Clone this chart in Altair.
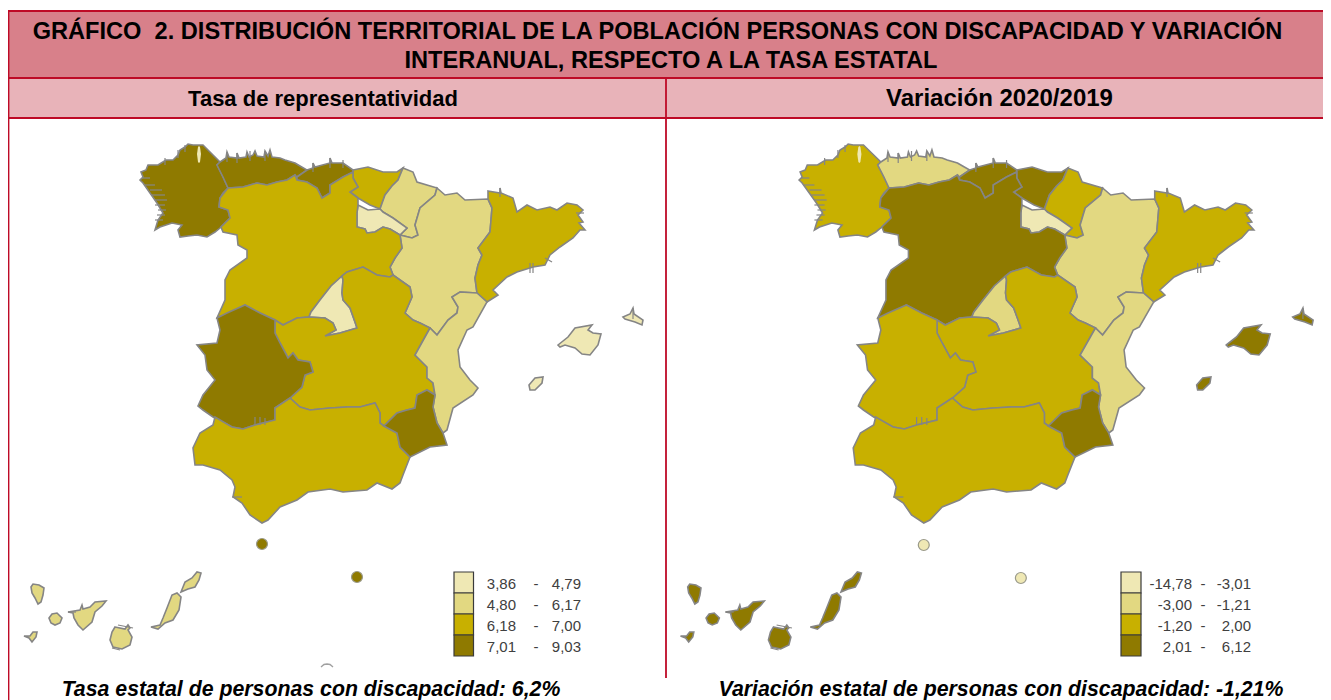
import altair as alt
import pandas as pd

# Class colours, lightest to darkest
CLASS_COLORS = ["#EFE8B4", "#E2D881", "#C8B000", "#8F7A00"]
BORDER = "#BE0A26"

galicia = [(140,180),(143,177),(141,172),(146,170),(148,165),(158,165),(166,160),(173,160),(178,155),(180,150),(185,147),(188,144),(193,145),(198,145),(203,145),(208,150),(213,155),(220,162),(217,165),(223,177),(228,188),(223,193),(220,198),(219,207),(228,210),(230,218),(220,228),(215,232),(207,237),(197,235),(188,236),(180,237),(178,230),(182,225),(172,223),(160,227),(155,230),(158,220),(163,213),(157,203),(150,193),(143,183)]
asturias = [(220,162),(226,158),(227,152),(229,157),(237,158),(237,153),(239,158),(246,157),(247,152),(249,157),(253,155),(255,151),(257,156),(264,157),(265,151),(268,156),(270,150),(272,157),(280,158),(285,160),(295,163),(300,166),(307,170),(297,177),(295,175),(287,180),(277,182),(267,185),(257,183),(243,187),(228,188),(223,177),(217,165)]
cantabria = [(307,170),(313,168),(313,163),(315,167),(330,163),(330,158),(332,163),(343,163),(353,170),(353,172),(343,177),(330,185),(330,193),(322,198),(317,188),(307,182),(297,180),(297,177)]
pais_vasco = [(353,170),(368,167),(383,172),(397,172),(403,168),(398,180),(392,186),(385,195),(380,209),(370,205),(358,198),(350,192),(358,187),(353,178)]
navarra = [(403,168),(413,172),(417,182),(437,188),(435,195),(420,208),(415,225),(418,235),(412,238),(400,235),(407,228),(393,218),(383,212),(380,209),(385,195),(392,186),(398,180)]
rioja = [(358,205),(368,210),(380,209),(383,212),(393,218),(407,228),(400,235),(390,229),(383,227),(375,232),(367,233),(365,229),(357,227),(357,213)]
aragon = [(437,188),(445,195),(457,193),(465,200),(488,199),(492,208),(490,232),(478,248),(482,255),(478,265),(475,278),(477,293),(460,292),(452,297),(458,307),(457,313),(448,320),(437,335),(430,328),(420,323),(413,320),(405,313),(412,297),(410,287),(393,275),(390,267),(395,258),(402,248),(400,235),(412,238),(418,235),(415,225),(420,208),(435,195)]
cataluna = [(488,191),(500,193),(500,188),(501,193),(513,198),(517,212),(527,205),(537,210),(550,207),(557,210),(567,203),(577,205),(583,210),(578,215),(583,222),(579,223),(585,230),(580,230),(573,238),(560,247),(550,255),(545,265),(533,267),(517,272),(507,277),(493,290),(498,295),(487,302),(477,293),(475,278),(478,265),(482,255),(478,248),(490,232),(492,208),(488,199)]
castilla_leon = [(228,188),(243,187),(257,183),(267,185),(277,182),(287,180),(295,175),(297,180),(307,182),(317,188),(322,198),(330,193),(330,185),(343,177),(353,172),(353,178),(358,187),(350,192),(358,198),(358,205),(357,213),(357,227),(365,229),(367,233),(375,232),(383,227),(390,229),(400,235),(402,248),(395,258),(390,267),(393,275),(390,277),(377,275),(363,267),(347,272),(342,276),(331,286),(320,300),(311,312),(309,317),(297,318),(283,325),(275,320),(260,313),(245,305),(233,313),(217,318),(225,300),(225,280),(230,270),(247,258),(247,250),(238,245),(237,235),(223,232),(221,227),(230,218),(228,210),(219,207),(220,198)]
madrid = [(342,276),(331,286),(320,300),(311,312),(309,317),(325,318),(333,323),(336,330),(325,336),(340,333),(357,328),(355,322),(350,308),(343,300),(342,293),(343,280)]
castilla_mancha = [(275,320),(283,325),(297,318),(309,317),(325,318),(333,323),(336,330),(325,336),(340,333),(357,328),(355,322),(350,308),(343,300),(342,293),(343,280),(342,276),(347,272),(363,267),(377,275),(390,277),(393,275),(410,287),(412,297),(405,313),(413,320),(420,323),(430,328),(425,337),(415,355),(427,367),(427,378),(433,383),(435,395),(427,390),(417,395),(415,408),(407,410),(397,413),(384,426),(380,423),(380,413),(375,403),(360,407),(347,407),(330,408),(310,410),(300,407),(290,398),(302,387),(305,375),(313,372),(310,362),(298,360),(293,353),(288,358),(280,343),(275,333)]
valencia = [(460,292),(477,293),(487,302),(473,327),(467,330),(458,350),(460,367),(470,380),(478,388),(473,395),(453,408),(447,430),(443,433),(437,423),(433,407),(435,395),(433,383),(427,378),(427,367),(415,355),(425,337),(430,328),(437,335),(448,320),(457,313),(458,307),(452,297)]
extremadura = [(245,305),(260,313),(275,320),(275,333),(280,343),(288,358),(293,353),(298,360),(310,362),(313,372),(305,375),(302,387),(290,398),(275,408),(275,420),(255,425),(243,429),(232,427),(213,417),(203,410),(198,406),(203,395),(215,380),(207,370),(205,355),(197,345),(217,343),(220,330),(217,318),(227,313)]
andalucia = [(290,398),(300,407),(310,410),(330,408),(347,407),(360,407),(375,403),(380,413),(380,423),(384,426),(397,433),(400,447),(410,457),(403,475),(400,483),(392,489),(377,483),(367,490),(343,492),(330,489),(308,492),(297,500),(280,507),(268,520),(262,523),(250,515),(242,503),(233,497),(235,487),(232,480),(220,470),(203,465),(195,465),(193,448),(200,433),(213,425),(215,417),(232,427),(243,429),(255,425),(275,420),(275,408)]
murcia = [(384,426),(397,413),(407,410),(415,408),(417,395),(427,390),(435,395),(433,407),(437,423),(443,433),(447,445),(430,447),(410,457),(400,447),(397,433)]
mallorca = [(558,345),(568,337),(575,328),(592,325),(588,330),(593,333),(601,334),(598,345),(590,355),(582,354),(575,348),(565,345),(560,347)]
menorca = [(623,317),(630,314),(633,308),(634,314),(643,320),(642,325),(635,322),(625,319)]
ibiza = [(529,385),(535,378),(543,377),(542,383),(535,390),(530,390)]
la_palma = [(31,587),(33,584),(39,585),(44,588),(43,595),(41,602),(38,604),(35,598),(32,593)]
la_gomera = [(49,618),(52,614),(57,613),(62,618),(60,623),(55,625),(51,623)]
el_hierro = [(24,636),(30,636),(33,632),(37,632),(36,637),(32,642),(29,638)]
tenerife = [(68,612),(80,610),(82,605),(83,609),(90,607),(95,602),(106,601),(102,606),(95,612),(92,622),(83,630),(78,625),(74,618),(73,613)]
gran_canaria = [(115,627),(125,629),(128,625),(130,628),(128,630),(132,637),(130,645),(122,649),(113,647),(110,640),(112,632)]
fuerteventura = [(151,627),(160,625),(163,618),(167,608),(172,595),(177,593),(181,597),(179,610),(173,620),(165,623),(158,629)]
lanzarote = [(181,592),(185,582),(192,578),(197,572),(201,573),(199,580),(195,587),(188,589)]

REGIONS = [galicia, asturias, cantabria, pais_vasco, navarra, rioja, aragon, cataluna,
           castilla_leon, madrid, castilla_mancha, valencia, extremadura, andalucia, murcia,
           mallorca, menorca, ibiza, la_palma, la_gomera, el_hierro, tenerife, gran_canaria,
           fuerteventura, lanzarote]
LEFT_CLASS =  [4,4,4,3,2,1,2,3,3,1,3,2,4,3,4,1,1,1,2,2,2,2,2,2,2]
RIGHT_CLASS = [3,2,4,4,3,1,2,3,4,2,3,2,3,3,4,4,4,4,4,4,4,4,4,4,4]

# Small grey coastline spurs visible on the outlines
coast_spurs = [
    [(150,190),(162,190)],[(152,195),(165,195)],[(155,200),(167,200)],[(155,205),(165,205)],
    [(158,210),(166,210)],[(157,215),(165,215)],[(155,220),(163,220)],[(145,185),(155,185)],
    [(142,178),(150,178)],[(185,145),(185,152)],[(178,150),(178,158)],[(165,158),(165,165)],
    [(227,152),(227,162)],[(237,153),(237,163)],[(250,151),(250,161)],[(265,151),(265,161)],
    [(313,163),(313,172)],[(330,158),(330,168)],[(343,160),(343,168)],
    [(500,188),(500,197)],[(530,263),(530,273)],[(533,263),(533,273)],[(545,258),(552,262)],
    [(576,213),(584,213)],[(633,308),(633,319)],[(68,612),(76,612)],[(112,648),(120,650)],
    [(232,497),(242,497)],[(255,417),(255,425)],[(260,417),(260,425)],[(265,418),(265,425)],
    [(118,625),(133,628)],
]

lake = [(197,154),(198,147),(199,146),(200,147),(201,154),(200,162),(199,163),(198,162)]
arc_left = [(321,667),(324,664.5),(327,664),(330,664.5),(333,667)]

city_xy = [(262,544),(357,577)]
city_left = [4,4]
city_right = [1,1]

LEG_TOPS = [572,593,614,635,656]
LEG_CLASS = [1,2,3,4]
LEG_LEFT_A = ["3,86","4,80","6,18","7,01"]
LEG_LEFT_B = ["4,79","6,17","7,00","9,03"]
LEG_RIGHT_A = ["-14,78","-3,00","-1,20","2,01"]
LEG_RIGHT_B = ["-3,01","-1,21","2,00","6,12"]
LEG_ROWS = [584,605,626,647]

FRAME_L, FRAME_R, MID = 8.5, 1345, 666
T0, T1, T2 = 11, 78, 118


def rx(x):
    return 656 + 1.022 * x


def poly(ring, cls=0):
    pts = [[float(x), float(y)] for x, y in ring]
    pts.append(pts[0])
    return {"type": "Feature", "properties": {"cls": cls},
            "geometry": {"type": "Polygon", "coordinates": [pts]}}


def line(pts):
    return {"type": "Feature", "properties": {},
            "geometry": {"type": "LineString", "coordinates": [[float(x), float(y)] for x, y in pts]}}


def box(x0, y0, x1, y1, cls=0):
    return poly([(x0, y0), (x1, y0), (x1, y1), (x0, y1)], cls)


def feats(values):
    return alt.Data(values=values)


color = alt.Color("properties.cls:O", scale=alt.Scale(domain=[1, 2, 3, 4], range=CLASS_COLORS), legend=None)
pcolor = alt.Color("cls:O", scale=alt.Scale(domain=[1, 2, 3, 4], range=CLASS_COLORS), legend=None)

head1 = alt.Chart(feats([box(FRAME_L, T0, FRAME_R, T1)])).mark_geoshape(fill="#D8808A", strokeWidth=0)
head2 = alt.Chart(feats([box(FRAME_L, T1, FRAME_R, T2)])).mark_geoshape(fill="#E8B3B9", strokeWidth=0)
rules = alt.Chart(feats([
    line([(FRAME_L, 700), (FRAME_L, T0), (FRAME_R, T0)]),
    line([(FRAME_L, T1), (FRAME_R, T1)]),
    line([(FRAME_L, T2), (FRAME_R, T2)]),
    line([(MID, T1), (MID, 678)]),
])).mark_geoshape(filled=False, stroke=BORDER, strokeWidth=1.8)

left_map = alt.Chart(feats([poly(r, c) for r, c in zip(REGIONS, LEFT_CLASS)])).mark_geoshape(
    stroke="#858585", strokeWidth=1.6).encode(color=color)
right_map = alt.Chart(feats([poly([(rx(x), y) for x, y in r], c) for r, c in zip(REGIONS, RIGHT_CLASS)])).mark_geoshape(
    stroke="#858585", strokeWidth=1.6).encode(color=color)
spurs = alt.Chart(feats(
    [line(s) for s in coast_spurs] + [line([(rx(x), y) for x, y in s]) for s in coast_spurs]
)).mark_geoshape(filled=False, stroke="#858585", strokeWidth=1.2)

lakes = alt.Chart(feats([poly(lake, 1), poly([(rx(x), y) for x, y in lake], 1)])).mark_geoshape(
    strokeWidth=0).encode(color=color)
arc = alt.Chart(feats([line(arc_left)])).mark_geoshape(filled=False, stroke="#A0A0A0", strokeWidth=1.4)

cities = pd.DataFrame(
    [{"x": x, "y": y, "cls": c} for (x, y), c in zip(city_xy, city_left)]
    + [{"x": rx(x), "y": y + 1, "cls": c} for (x, y), c in zip(city_xy, city_right)]
)
city_marks = alt.Chart(cities).mark_circle(size=120, opacity=1, stroke="#9A9A8A", strokeWidth=1.2).encode(
    longitude="x:Q", latitude="y:Q", color=pcolor)

swatches = []
for i, c in enumerate(LEG_CLASS):
    swatches.append(box(454, LEG_TOPS[i], 473.5, LEG_TOPS[i + 1], c))
    swatches.append(box(1121, LEG_TOPS[i], 1141, LEG_TOPS[i + 1], c))
legend_boxes = alt.Chart(feats(swatches)).mark_geoshape(stroke="#3A3A3A", strokeWidth=1.2).encode(color=color)


def text_layer(rows, **kw):
    df = pd.DataFrame(rows, columns=["x", "y", "t"])
    return alt.Chart(df).mark_text(font="Liberation Sans", **kw).encode(
        longitude="x:Q", latitude="y:Q", text="t:N")


title = text_layer([
    (657.5, 32, "GRÁFICO\u00a0 2. DISTRIBUCIÓN TERRITORIAL DE LA POBLACIÓN PERSONAS CON DISCAPACIDAD Y VARIACIÓN"),
    (671, 61, "INTERANUAL, RESPECTO A LA TASA ESTATAL"),
], fontSize=23.6, fontWeight="bold", align="center", baseline="middle", color="#000000")
sub_l = text_layer([(323, 99, "Tasa de representatividad")],
                   fontSize=22, fontWeight="bold", align="center", baseline="middle", color="#000000")
sub_r = text_layer([(999.5, 99, "Variación 2020/2019")],
                   fontSize=24, fontWeight="bold", align="center", baseline="middle", color="#000000")
foot = text_layer([
    (311, 690, "Tasa estatal de personas con discapacidad: 6,2%"),
    (1001, 690, "Variación estatal de personas con discapacidad: -1,21%"),
], fontSize=21.3, fontWeight="bold", fontStyle="italic", align="center", baseline="middle", color="#000000")

leg_a = text_layer(
    [(516, y, t) for y, t in zip(LEG_ROWS, LEG_LEFT_A)] + [(1192, y, t) for y, t in zip(LEG_ROWS, LEG_RIGHT_A)],
    fontSize=15, align="right", baseline="middle", color="#404040")
leg_d = text_layer(
    [(536, y, "-") for y in LEG_ROWS] + [(1203, y, "-") for y in LEG_ROWS],
    fontSize=15, align="center", baseline="middle", color="#404040")
leg_b = text_layer(
    [(581, y, t) for y, t in zip(LEG_ROWS, LEG_LEFT_B)] + [(1251, y, t) for y, t in zip(LEG_ROWS, LEG_RIGHT_B)],
    fontSize=15, align="right", baseline="middle", color="#404040")

chart = alt.layer(
    head1, head2, rules, left_map, right_map, spurs, lakes, arc, city_marks,
    legend_boxes, title, sub_l, sub_r, foot, leg_a, leg_d, leg_b,
).properties(
    width=1315, height=692,
    projection=alt.Projection(type="identity", scale=1, translate=[-8, -8]),
    padding=0, autosize=alt.AutoSizeParams(type="none"),
).configure_view(stroke=None)

chart.save("out.html", embed_options={"renderer": "svg", "actions": False})
